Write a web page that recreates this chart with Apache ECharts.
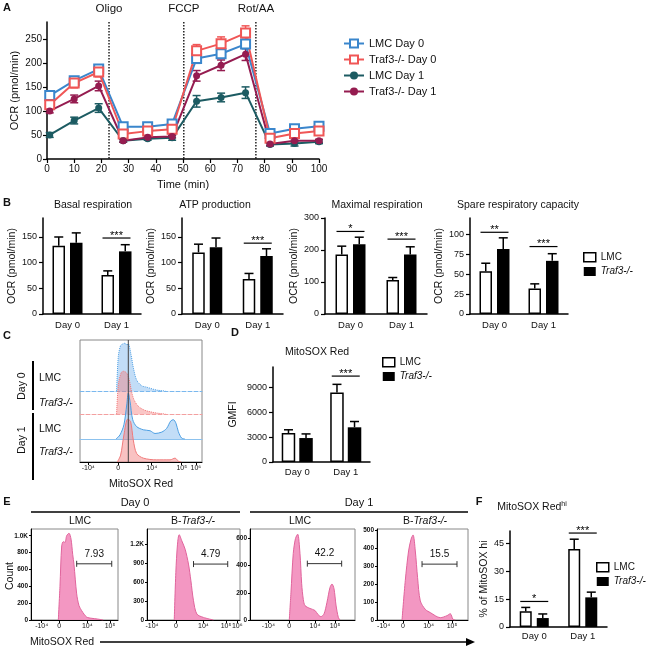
<!DOCTYPE html>
<html>
<head>
<meta charset="utf-8">
<script src="https://cdn.jsdelivr.net/npm/echarts@6/dist/echarts.min.js"></script>
<style>
html,body{margin:0;padding:0;background:#fff;}
#fig{width:646px;height:647px;}
</style>
</head>
<body>
<div id="fig"></div>
<script>
// ---- data ----
var timePts = [1, 10, 19, 28, 37, 46, 55, 64, 73, 82, 91, 100];
var lmcDay0 = [132, 163, 187, 67, 67, 73, 209, 219, 239, 53, 63, 68];
var lmcDay0Err = [8, 7, 7, 5, 4, 5, 10, 8, 10, 5, 4, 4];
var koDay0 = [113, 158, 181, 52, 58, 62, 225, 240, 262, 43, 53, 58];
var koDay0Err = [7, 10, 10, 5, 5, 5, 13, 14, 15, 5, 4, 4];
var lmcDay1 = [50, 80, 106, 38, 42, 44, 120, 128, 138, 30, 32, 36];
var lmcDay1Err = [5, 7, 9, 3, 3, 5, 12, 9, 12, 3, 5, 4];
var koDay1 = [100, 125, 152, 38, 45, 47, 173, 195, 218, 31, 38, 38];
var koDay1Err = [4, 8, 10, 3, 3, 3, 11, 11, 13, 3, 4, 3];
var injNames = ['Oligo', 'FCCP', 'Rot/AA'];
var injTimes = [22.8, 50.3, 76.8];
var ocrTicks = [0, 50, 100, 150, 200, 250];

var dayCats = ['Day 0', 'Day 1'];
var basalLmc = [133, 76], basalLmcErr = [17, 8], basalKo = [139, 122], basalKoErr = [19, 13];
var basalSig = [null, 148], basalSigTxt = ['', '***'];
var atpLmc = [120, 68], atpLmcErr = [16, 11], atpKo = [130, 113], atpKoErr = [18, 14];
var atpSig = [null, 138], atpSigTxt = ['', '***'];
var maxLmc = [186, 106], maxLmcErr = [26, 8], maxKo = [218, 186], maxKoErr = [22, 24];
var maxSig = [258, 234], maxSigTxt = ['*', '***'];
var spareLmc = [54, 32], spareLmcErr = [10, 6], spareKo = [82, 67], spareKoErr = [14, 9];
var spareSig = [103, 85], spareSigTxt = ['**', '***'];
var gmfiLmc = [3500, 8400], gmfiLmcErr = [400, 1000], gmfiKo = [2900, 4200], gmfiKoErr = [500, 700];
var gmfiSig = [null, 10400], gmfiSigTxt = ['', '***'];
var hiLmc = [8.4, 41.8], hiLmcErr = [2.1, 5.3], hiKo = [4.8, 15.9], hiKoErr = [2.2, 2.8];
var hiSig = [13.7, 50.4], hiSigTxt = ['*', '***'];

// flow histograms: [display position, % of mode] for C, [display position, count] for E
var flowLabels = ['-10\u2074', '0', '10\u2074', '10\u2075', '10\u2076'];
var cTicks = [6.8, 31.4, 58.8, 83.4, 95];
var cMedian = [39.6];
var cDay0Lmc = [[30,0],[31.4,72],[33.3,95],[35,98],[36.9,100],[38.3,96],[39.6,98],[41.8,76],[43.7,49],[46.4,23],[50.5,11],[54.6,8],[62.8,2],[70,0]];
var cDay0Ko = [[30,0],[31.4,68],[33.6,95],[35.5,100],[38.3,95],[40.4,79],[42.3,52],[44.3,33],[47.8,18],[53.3,8.5],[62.8,2.3],[70,0]];
var cDay1Lmc = [[29.5,0],[32.8,9],[36,31],[38.3,74],[39.6,100],[41,82],[43.2,42],[46.4,27],[51.9,20],[57.4,18],[61.5,12],[67,15],[71,23],[74.3,39],[76.5,42],[78.7,34],[80.6,16],[83.3,2],[86,0]];
var cDay1Ko = [[30.6,0],[33.3,16],[36,63],[39.1,100],[41.5,94],[43.7,51],[46.4,20],[51.9,9],[62.8,5],[73.8,5],[77.9,9],[80.6,2],[83,0]];

var e1Hist = [[31.4,0],[33.3,400],[35.3,880],[37.1,930],[39.1,920],[41,1000],[43.7,1030],[46,960],[47.9,780],[49.4,660],[52.5,310],[55.2,170],[58.3,110],[64,35],[70,20],[76,12],[83,0]];
var e2Hist = [[29.3,0],[31,750],[32.8,1200],[34.6,1350],[37.5,1250],[41,1120],[44.6,885],[47.2,620],[50,305],[53.6,95],[60.7,41],[71.4,0]];
var e3Hist = [[37.4,0],[39,200],[41.2,490],[43.3,600],[45.4,632],[47.6,490],[49.2,267],[50.8,150],[52.4,106],[57.1,85],[61.9,70],[64.8,40],[67.6,25],[70.5,45],[73.3,130],[76.2,240],[78.1,265],[80,230],[81.9,110],[84.1,20],[85.7,0]];
var e4Hist = [[27.5,0],[31.1,220],[34.7,383],[37.4,448],[39.6,472],[42.1,383],[44.6,235],[47.6,106],[53.1,59],[58.6,41],[69.6,13],[76.9,24],[80.5,35],[83.5,4],[86,0]];
var e1Ticks = [12.3, 32.5, 64.7, 90.8, 99];
var e2Ticks = [5.4, 31, 60.7, 85, 97];
var e3Ticks = [17.5, 37.4, 61.9, 81, 90.5];
var e4Ticks = [7.3, 28.6, 56.7, 82.4, 91.5];
var e1YTicks = [0, 200, 400, 600, 800, 1000];
var e2YTicks = [0, 300, 600, 900, 1200];
var e3YTicks = [0, 200, 400, 600];
var e4YTicks = [0, 100, 200, 300, 400, 500];
var e1Gate = [52.5, 92.8, 667], e2Gate = [50, 86.8, 885], e3Gate = [54.6, 87.3, 415], e4Gate = [49.5, 87.9, 310];
var gateTxt = ['7.93', '4.79', '42.2', '15.5'];

// ---- helpers ----
var FONT = 'Liberation Sans, Arial, sans-serif';
var grids = [], xAxes = [], yAxes = [], seriesList = [], graphics = [], legends = [];

function addGrid(g, xa, ya) {
    grids.push(g);
    var gi = grids.length - 1;
    xa.gridIndex = gi;
    ya.gridIndex = gi;
    xAxes.push(xa);
    yAxes.push(ya);
    return gi;
}
function txt(x, y, s, size, opt) {
    opt = opt || {};
    graphics.push({type: 'text', x: x, y: y, rotation: opt.rot || 0, z: 100,
        style: {text: s, fontSize: size, fontFamily: FONT, fontWeight: opt.bold ? 'bold' : 'normal',
            fontStyle: opt.italic ? 'italic' : 'normal', fill: '#111', align: opt.align || 'center',
            verticalAlign: 'middle', rich: opt.rich}});
}
function seg(x1, y1, x2, y2, w) {
    graphics.push({type: 'line', z: 100, shape: {x1: x1, y1: y1, x2: x2, y2: y2}, style: {stroke: '#000', lineWidth: w || 1.5}});
}
var blackLine = {show: true, lineStyle: {color: '#000', width: 1.5}};
var italicRich = {i: {fontStyle: 'italic', fontSize: 10.5, fontFamily: FONT}, n: {fontSize: 10.5, fontFamily: FONT}};
var legendRich = {i: {fontStyle: 'italic', fontSize: 10, fontFamily: FONT}, n: {fontSize: 10, fontFamily: FONT}};

function errXY(gi, xs, ys, es, color) {
    return {type: 'custom', xAxisIndex: gi, yAxisIndex: gi, z: 2,
        data: xs.map(function (x, i) { return [x, ys[i], es[i]]; }),
        renderItem: function (params, api) {
            var x = api.value(0), y = api.value(1), e = api.value(2);
            var p1 = api.coord([x, y + e]), p2 = api.coord([x, y - e]);
            var st = {stroke: color, lineWidth: 1.5};
            return {type: 'group', children: [
                {type: 'line', shape: {x1: p1[0], y1: p1[1], x2: p2[0], y2: p2[1]}, style: st},
                {type: 'line', shape: {x1: p1[0] - 4, y1: p1[1], x2: p1[0] + 4, y2: p1[1]}, style: st},
                {type: 'line', shape: {x1: p2[0] - 4, y1: p2[1], x2: p2[0] + 4, y2: p2[1]}, style: st}
            ]};
        }};
}
function errBar(gi, vals, errs, off) {
    return {type: 'custom', xAxisIndex: gi, yAxisIndex: gi, z: 3,
        data: vals.map(function (v, i) { return [i, v, errs[i]]; }),
        renderItem: function (params, api) {
            var b = api.coord([api.value(0), api.value(1)]);
            var t = api.coord([api.value(0), api.value(1) + api.value(2)]);
            var cx = b[0] + off;
            var st = {stroke: '#000', lineWidth: 1.5};
            return {type: 'group', children: [
                {type: 'line', shape: {x1: cx, y1: b[1], x2: cx, y2: t[1]}, style: st},
                {type: 'line', shape: {x1: cx - 4.5, y1: t[1], x2: cx + 4.5, y2: t[1]}, style: st}
            ]};
        }};
}
function sigMarks(gi, ys, labels) {
    var items = [];
    ys.forEach(function (y, i) { if (y != null) items.push([i, y, i]); });
    return {type: 'custom', xAxisIndex: gi, yAxisIndex: gi, z: 4, data: items,
        renderItem: function (params, api) {
            var p = api.coord([api.value(0), api.value(1)]);
            return {type: 'group', children: [
                {type: 'line', shape: {x1: p[0] - 14, y1: p[1], x2: p[0] + 14, y2: p[1]}, style: {stroke: '#000', lineWidth: 1.2}},
                {type: 'text', style: {text: labels[api.value(2)], x: p[0], y: p[1] + 3, align: 'center', verticalAlign: 'bottom',
                    fontSize: 11, fontFamily: FONT, fill: '#000'}}
            ]};
        }};
}
function plainNum(v) { return String(v); }
function barPanel(p) {
    var gi = addGrid({left: p.left, top: p.top, width: p.width, height: p.height},
        {type: 'category', data: dayCats, axisLine: blackLine, axisTick: {show: false},
            axisLabel: {fontSize: 9.5, color: '#111', margin: p.xMargin || 6}},
        {type: 'value', min: 0, max: p.max, name: p.yName, nameLocation: 'middle', nameGap: p.nameGap,
            nameTextStyle: {fontSize: 10.5, color: '#111'}, axisLine: blackLine,
            axisTick: {show: true, length: 4, customValues: p.ticks, lineStyle: {color: '#000', width: 1.2}},
            axisLabel: {customValues: p.ticks, fontSize: 9, color: '#111', margin: 6, formatter: plainNum}, splitLine: {show: false}});
    seriesList.push({type: 'bar', name: 'LMC', xAxisIndex: gi, yAxisIndex: gi, data: p.lmc, barWidth: p.barWidth,
        barGap: p.barGap, itemStyle: {color: '#fff', borderColor: '#000', borderWidth: 1.5}});
    seriesList.push({type: 'bar', name: 'Traf3-/-', xAxisIndex: gi, yAxisIndex: gi, data: p.ko, barWidth: p.barWidth,
        barGap: p.barGap, itemStyle: {color: '#000'}});
    var off = p.barWidth * (1 + parseFloat(p.barGap) / 100) / 2;
    seriesList.push(errBar(gi, p.lmc, p.lmcErr, -off));
    seriesList.push(errBar(gi, p.ko, p.koErr, off));
    seriesList.push(sigMarks(gi, p.sig, p.sigTxt));
    if (p.title) txt(p.titleX, p.titleY, p.title, 10.5);
}
function barLegend(left, top) {
    legends.push({left: left, top: top, orient: 'vertical', icon: 'rect', itemWidth: 12, itemHeight: 9, itemGap: 4,
        data: [{name: 'LMC', itemStyle: {color: '#fff', borderColor: '#000', borderWidth: 1.5}},
            {name: 'Traf3-/-', itemStyle: {color: '#000'}}],
        formatter: function (n) { return n === 'LMC' ? '{n|' + n + '}' : '{i|' + n + '}'; },
        textStyle: {fontSize: 10, color: '#111', rich: legendRich}, selectedMode: false});
}
function flowXAxis(ticks, name, nameGap) {
    return {type: 'value', min: 0, max: 100,
        axisLine: {show: true, lineStyle: {color: '#000', width: 1}},
        axisTick: {show: true, length: 3, customValues: ticks, lineStyle: {color: '#000'}},
        axisLabel: {customValues: ticks, fontSize: 7, margin: 3, color: '#111',
            formatter: function (v) {
                for (var i = 0; i < ticks.length; i++) { if (Math.abs(ticks[i] - v) < 1e-6) return flowLabels[i]; }
                return '';
            }},
        splitLine: {show: false}, name: name || '', nameLocation: 'middle', nameGap: nameGap || 0,
        nameTextStyle: {fontSize: 10.5, color: '#111'}};
}
function kFmt(v) { return v >= 1000 ? (v / 1000).toFixed(1) + 'K' : String(v); }
function flowPanel(p) {
    var gi = addGrid({left: p.left, top: p.top, width: p.width, height: p.height, show: true, borderColor: '#888', borderWidth: 1},
        flowXAxis(p.ticks),
        {type: 'value', min: 0, max: p.yMax, axisLine: {show: true, lineStyle: {color: '#000', width: 1}},
            axisTick: {show: true, length: 2, customValues: p.yTicks, lineStyle: {color: '#000'}},
            axisLabel: {customValues: p.yTicks, fontSize: 6.5, fontWeight: 'bold', margin: 3, color: '#111', formatter: kFmt},
            splitLine: {show: false}});
    seriesList.push({type: 'line', xAxisIndex: gi, yAxisIndex: gi, data: p.hist, smooth: 0.3, symbol: 'none',
        lineStyle: {color: '#e0649c', width: 1}, areaStyle: {color: '#f28cbb', opacity: 0.9}});
    seriesList.push({type: 'custom', xAxisIndex: gi, yAxisIndex: gi, z: 5, data: [p.gate],
        renderItem: function (params, api) {
            var a = api.coord([api.value(0), api.value(2)]), b = api.coord([api.value(1), api.value(2)]);
            var st = {stroke: '#333', lineWidth: 1};
            return {type: 'group', children: [
                {type: 'line', shape: {x1: a[0], y1: a[1], x2: b[0], y2: b[1]}, style: st},
                {type: 'line', shape: {x1: a[0], y1: a[1] - 3, x2: a[0], y2: a[1] + 3}, style: st},
                {type: 'line', shape: {x1: b[0], y1: b[1] - 3, x2: b[0], y2: b[1] + 3}, style: st},
                {type: 'text', style: {text: p.gateLabel, x: (a[0] + b[0]) / 2, y: a[1] - 10, align: 'center',
                    verticalAlign: 'middle', fontSize: 10, fontFamily: FONT, fill: '#111'}}
            ]};
        }});
}

// ---- panel A ----
var giA = addGrid({left: 47, top: 22, width: 272, height: 137},
    {type: 'value', min: 0, max: 100, interval: 10, name: 'Time (min)', nameLocation: 'middle', nameGap: 20,
        nameTextStyle: {fontSize: 11, color: '#111'}, axisLine: blackLine,
        axisTick: {length: 4, lineStyle: {color: '#000', width: 1.2}}, axisLabel: {fontSize: 10, color: '#111', margin: 5},
        splitLine: {show: false}},
    {type: 'value', min: 0, max: 285, name: 'OCR (pmol/min)', nameLocation: 'middle', nameGap: 27,
        nameTextStyle: {fontSize: 11, color: '#111'}, axisLine: blackLine,
        axisTick: {show: true, length: 4, customValues: ocrTicks, lineStyle: {color: '#000', width: 1.2}},
        axisLabel: {customValues: ocrTicks, fontSize: 10, color: '#111', margin: 5}, splitLine: {show: false}});
var aNames = ['LMC Day 0', 'Traf3-/- Day 0', 'LMC Day 1', 'Traf3-/- Day 1'];
var aVals = [lmcDay0, koDay0, lmcDay1, koDay1];
var aErrs = [lmcDay0Err, koDay0Err, lmcDay1Err, koDay1Err];
var aColors = ['#3a86cc', '#f05656', '#1c5b62', '#951c50'];
for (var k = 0; k < 4; k++) {
    seriesList.push(errXY(giA, timePts, aVals[k], aErrs[k], aColors[k]));
}
for (var k = 0; k < 4; k++) {
    var hollow = k < 2;
    seriesList.push({type: 'line', name: aNames[k], xAxisIndex: giA, yAxisIndex: giA, z: 3,
        data: timePts.map(function (t, i) { return [t, aVals[k][i]]; }),
        symbol: hollow ? 'rect' : 'circle', symbolSize: hollow ? 9 : 7,
        lineStyle: {color: aColors[k], width: 2},
        itemStyle: hollow ? {color: '#fff', borderColor: aColors[k], borderWidth: 2} : {color: aColors[k]}});
}
seriesList.push({type: 'custom', xAxisIndex: giA, yAxisIndex: giA, z: 1,
    data: injTimes.map(function (t, i) { return [t, i]; }),
    renderItem: function (params, api) {
        var top = api.coord([api.value(0), 285]), bot = api.coord([api.value(0), 0]);
        return {type: 'group', children: [
            {type: 'line', shape: {x1: top[0], y1: top[1], x2: bot[0], y2: bot[1]}, style: {stroke: '#000', lineWidth: 1.3, lineDash: [1.5, 1.5]}},
            {type: 'text', style: {text: injNames[api.value(1)], x: top[0], y: top[1] - 13, align: 'center', verticalAlign: 'middle',
                fontSize: 11.5, fontFamily: FONT, fill: '#111'}}
        ]};
    }});
legends.push({left: 338, top: 33, orient: 'vertical', itemWidth: 20, itemHeight: 10, itemGap: 5, data: aNames,
    textStyle: {fontSize: 11, color: '#111'}, selectedMode: false});
txt(7, 8, 'A', 11, {bold: true});

// ---- panel B ----
txt(7, 203, 'B', 11, {bold: true});
barPanel({left: 43, top: 218, width: 98, height: 96, max: 187, ticks: [0, 50, 100, 150], yName: 'OCR (pmol/min)', nameGap: 25,
    lmc: basalLmc, lmcErr: basalLmcErr, ko: basalKo, koErr: basalKoErr, sig: basalSig, sigTxt: basalSigTxt,
    barWidth: 12.5, barGap: '40%', title: 'Basal respiration', titleX: 93, titleY: 205});
barPanel({left: 182, top: 218, width: 101, height: 96, max: 187, ticks: [0, 50, 100, 150], yName: 'OCR (pmol/min)', nameGap: 21,
    lmc: atpLmc, lmcErr: atpLmcErr, ko: atpKo, koErr: atpKoErr, sig: atpSig, sigTxt: atpSigTxt,
    barWidth: 12.5, barGap: '40%', title: 'ATP production', titleX: 215, titleY: 205});
barPanel({left: 325, top: 218, width: 102, height: 96, max: 300, ticks: [0, 100, 200, 300], yName: 'OCR (pmol/min)', nameGap: 17,
    lmc: maxLmc, lmcErr: maxLmcErr, ko: maxKo, koErr: maxKoErr, sig: maxSig, sigTxt: maxSigTxt,
    barWidth: 12.5, barGap: '40%', title: 'Maximal respiration', titleX: 377, titleY: 205});
barPanel({left: 470, top: 218, width: 98, height: 96, max: 121, ticks: [0, 25, 50, 75, 100], yName: 'OCR (pmol/min)', nameGap: 19,
    lmc: spareLmc, lmcErr: spareLmcErr, ko: spareKo, koErr: spareKoErr, sig: spareSig, sigTxt: spareSigTxt,
    barWidth: 12.5, barGap: '40%', title: 'Spare respiratory capacity', titleX: 518, titleY: 205});
barLegend(578, 247);

// ---- panel C ----
txt(7, 336, 'C', 11, {bold: true});
var giC = addGrid({left: 80, top: 340, width: 122, height: 122, show: true, borderColor: '#888', borderWidth: 1},
    flowXAxis(cTicks, 'MitoSOX Red', 17),
    {type: 'value', min: 0, max: 1, show: false});
seriesList.push({type: 'custom', xAxisIndex: giC, yAxisIndex: giC, z: 10, data: cMedian.map(function (v) { return [v]; }),
    renderItem: function (params, api) {
        var a = api.coord([api.value(0), 0]), b = api.coord([api.value(0), 1]);
        return {type: 'line', shape: {x1: a[0], y1: a[1], x2: b[0], y2: b[1]}, style: {stroke: '#444', lineWidth: 1}};
    }});
var lanes = [
    {base: 391, h: 48, data: cDay0Lmc, edge: '#4d9fe3', fill: 'rgba(110,175,235,0.6)', type: 'dotted', axis: {color: '#7ab8ee', type: 'dashed'}},
    {base: 414, h: 43, data: cDay0Ko, edge: '#f07a7a', fill: 'rgba(242,120,120,0.6)', type: 'dotted', axis: {color: '#f3a0a0', type: 'dashed'}},
    {base: 439, h: 46, data: cDay1Lmc, edge: '#4d9fe3', fill: 'rgba(110,175,235,0.6)', type: 'solid', axis: {color: '#8cc2ee', type: 'solid'}},
    {base: 462, h: 43, data: cDay1Ko, edge: '#f07a7a', fill: 'rgba(242,120,120,0.65)', type: 'solid', axis: null}
];
lanes.forEach(function (ln) {
    var gi = addGrid({left: 80, top: ln.base - ln.h, width: 122, height: ln.h},
        {type: 'value', min: 0, max: 100, axisLine: {show: !!ln.axis, lineStyle: {color: ln.axis ? ln.axis.color : '#000', type: ln.axis ? ln.axis.type : 'solid', width: 1}},
            axisTick: {show: false}, axisLabel: {show: false}, splitLine: {show: false}},
        {type: 'value', min: 0, max: 100, show: false});
    seriesList.push({type: 'line', xAxisIndex: gi, yAxisIndex: gi, data: ln.data, smooth: 0.3, symbol: 'none',
        lineStyle: {color: ln.edge, width: 1, type: ln.type}, areaStyle: {color: ln.fill}});
});
seg(33, 361, 33, 410, 2);
seg(33, 413, 33, 480, 2);
txt(22, 386, 'Day 0', 10.5, {rot: Math.PI / 2});
txt(22, 440, 'Day 1', 10.5, {rot: Math.PI / 2});
txt(39, 378, 'LMC', 10.5, {align: 'left'});
txt(39, 403, 'Traf3-/-', 10.5, {align: 'left', italic: true});
txt(39, 429, 'LMC', 10.5, {align: 'left'});
txt(39, 452, 'Traf3-/-', 10.5, {align: 'left', italic: true});

// ---- panel D ----
txt(235, 333, 'D', 11, {bold: true});
barPanel({left: 273, top: 367, width: 97, height: 95, max: 11500, ticks: [0, 3000, 6000, 9000], yName: 'GMFI', nameGap: 34,
    lmc: gmfiLmc, lmcErr: gmfiLmcErr, ko: gmfiKo, koErr: gmfiKoErr, sig: gmfiSig, sigTxt: gmfiSigTxt,
    barWidth: 13.5, barGap: '30%', xMargin: 5, title: 'MitoSOX Red', titleX: 317, titleY: 352});
barLegend(377, 352);

// ---- panel E ----
txt(7, 502, 'E', 11, {bold: true});
txt(135, 503, 'Day 0', 11);
txt(359, 503, 'Day 1', 11);
seg(31, 512, 240, 512, 1.5);
seg(250, 512, 468, 512, 1.5);
txt(80, 521, 'LMC', 10.5);
txt(193, 521, '{n|B-}{i|Traf3-/-}', 10.5, {rich: italicRich});
txt(300, 521, 'LMC', 10.5);
txt(425, 521, '{n|B-}{i|Traf3-/-}', 10.5, {rich: italicRich});
flowPanel({left: 31, top: 529, width: 87, height: 91, hist: e1Hist, ticks: e1Ticks, yMax: 1080, yTicks: e1YTicks, gate: e1Gate, gateLabel: gateTxt[0]});
flowPanel({left: 147, top: 529, width: 93, height: 91, hist: e2Hist, ticks: e2Ticks, yMax: 1440, yTicks: e2YTicks, gate: e2Gate, gateLabel: gateTxt[1]});
flowPanel({left: 250, top: 529, width: 105, height: 91, hist: e3Hist, ticks: e3Ticks, yMax: 670, yTicks: e3YTicks, gate: e3Gate, gateLabel: gateTxt[2]});
flowPanel({left: 377, top: 529, width: 91, height: 91, hist: e4Hist, ticks: e4Ticks, yMax: 505, yTicks: e4YTicks, gate: e4Gate, gateLabel: gateTxt[3]});
txt(10, 576, 'Count', 10.5, {rot: Math.PI / 2});
txt(62, 642, 'MitoSOX Red', 10.5);
seg(100, 642, 468, 642, 1.5);
graphics.push({type: 'polygon', z: 100, shape: {points: [[466, 638], [475, 642], [466, 646]]}, style: {fill: '#000'}});

// ---- panel F ----
txt(479, 502, 'F', 11, {bold: true});
txt(532, 507, '{n|MitoSOX Red}{s|hi}', 10.5, {rich: {n: {fontSize: 10.5, fontFamily: FONT}, s: {fontSize: 7, fontFamily: FONT, verticalAlign: 'top', padding: [0, 0, 6, 0]}}});
barPanel({left: 510, top: 531, width: 97, height: 96, max: 51.5, ticks: [0, 15, 30, 45], yName: '% of MitoSOX hi', nameGap: 17,
    lmc: hiLmc, lmcErr: hiLmcErr, ko: hiKo, koErr: hiKoErr, sig: hiSig, sigTxt: hiSigTxt,
    barWidth: 12, barGap: '42%', xMargin: 4});
barLegend(591, 557);

var chart = echarts.init(document.getElementById('fig'));
chart.setOption({
    animation: false,
    backgroundColor: '#fff',
    textStyle: {fontFamily: FONT},
    grid: grids,
    xAxis: xAxes,
    yAxis: yAxes,
    legend: legends,
    series: seriesList,
    graphic: {elements: graphics}
});
</script>
</body>
</html>
